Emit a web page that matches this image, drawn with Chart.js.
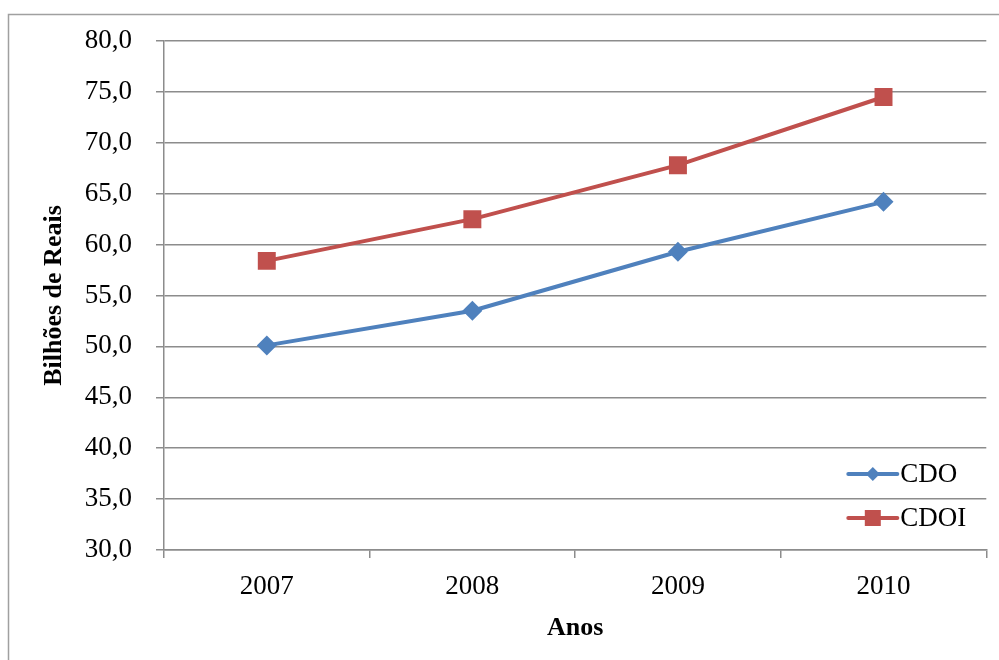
<!DOCTYPE html>
<html>
<head>
<meta charset="utf-8">
<script src="https://cdn.jsdelivr.net/npm/chart.js@4/dist/chart.umd.min.js"></script>
<style>
  html, body { margin: 0; padding: 0; background: #fff; }
  #wrap { width: 999px; height: 660px; position: relative; }
</style>
</head>
<body>
<div id="wrap"><canvas id="c" width="999" height="660"></canvas></div>
<script>
// Categories and series (billions of reais)
const anos = ['2007', '2008', '2009', '2010'];
const cdo = [50.1, 53.5, 59.3, 64.2];
const cdoi = [58.4, 62.5, 67.8, 74.5];
const yTicks = [30, 35, 40, 45, 50, 55, 60, 65, 70, 75, 80];

const FONT = "'Liberation Serif', 'Times New Roman', serif";
const GRID = '#8c8c8c';
const BLUE = '#4F81BD';
const RED = '#C0504D';

// Outer frame of the chart object
const framePlugin = {
  id: 'frame',
  beforeDraw(chart) {
    const ctx = chart.ctx;
    ctx.save();
    ctx.strokeStyle = '#a0a0a0';
    ctx.lineWidth = 1.5;
    ctx.beginPath();
    ctx.moveTo(8.5, chart.height);
    ctx.lineTo(8.5, 14.5);
    ctx.lineTo(chart.width, 14.5);
    ctx.stroke();
    ctx.restore();
  }
};

// Legend drawn inside the plot area, lower right: line segment + marker + label
const insideLegend = {
  id: 'insideLegend',
  afterDraw(chart) {
    const ctx = chart.ctx;
    const area = chart.chartArea;
    const rows = [area.bottom - 76, area.bottom - 32];
    ctx.save();
    chart.data.datasets.forEach((ds, i) => {
      const y = rows[i];
      const x0 = area.right - 138, x1 = area.right - 89;
      const cx = (x0 + x1) / 2;
      ctx.strokeStyle = ds.borderColor;
      ctx.lineWidth = 4;
      ctx.lineCap = 'round';
      ctx.beginPath();
      ctx.moveTo(x0, y);
      ctx.lineTo(x1, y);
      ctx.stroke();
      ctx.fillStyle = ds.backgroundColor;
      ctx.beginPath();
      if (ds.pointStyle === 'rect') {
        const h = 8;
        ctx.rect(cx - h, y - h, 2 * h, 2 * h);
      } else {
        const r = 7;
        ctx.moveTo(cx, y - r);
        ctx.lineTo(cx + r, y);
        ctx.lineTo(cx, y + r);
        ctx.lineTo(cx - r, y);
        ctx.closePath();
      }
      ctx.fill();
      ctx.fillStyle = '#000';
      ctx.font = '27px ' + FONT;
      ctx.textAlign = 'left';
      ctx.textBaseline = 'middle';
      ctx.fillText(ds.label, area.right - 86, y + 1);
    });
    ctx.restore();
  }
};

new Chart(document.getElementById('c'), {
  type: 'line',
  data: {
    labels: anos,
    datasets: [
      {
        label: 'CDO',
        data: cdo,
        borderColor: BLUE,
        backgroundColor: BLUE,
        borderWidth: 4,
        pointStyle: 'rectRot',
        pointRadius: 10,
        pointHoverRadius: 10,
        pointBorderWidth: 0,
        tension: 0
      },
      {
        label: 'CDOI',
        data: cdoi,
        borderColor: RED,
        backgroundColor: RED,
        borderWidth: 4,
        pointStyle: 'rect',
        pointRadius: 12.7,
        pointHoverRadius: 12.7,
        pointBorderWidth: 0,
        tension: 0
      }
    ]
  },
  options: {
    responsive: false,
    animation: false,
    devicePixelRatio: 1,
    layout: { padding: { left: 0, top: 41, right: 12, bottom: 0 } },
    plugins: {
      legend: { display: false },
      tooltip: { enabled: false }
    },
    scales: {
      x: {
        offset: true,
        grid: {
          offset: true,
          drawOnChartArea: false,
          drawTicks: true,
          tickLength: 8,
          color: GRID,
          lineWidth: 1.5
        },
        border: { display: true, color: GRID, width: 1.5 },
        ticks: {
          color: '#000',
          font: { family: FONT, size: 27 },
          padding: 13
        },
        title: {
          display: true,
          text: 'Anos',
          color: '#000',
          font: { family: FONT, size: 26, weight: 'bold' },
          padding: { top: 0, bottom: 16 }
        },
        afterFit(scale) { scale.height = 110; }
      },
      y: {
        min: 30,
        max: 80,
        afterBuildTicks(scale) {
          scale.ticks = yTicks.map(v => ({ value: v }));
        },
        grid: {
          color: GRID,
          lineWidth: 1.5,
          drawTicks: true,
          tickLength: 8
        },
        border: { display: true, color: GRID, width: 1.5 },
        ticks: {
          color: '#000',
          font: { family: FONT, size: 27 },
          padding: 24,
          callback: v => v.toFixed(1).replace('.', ',')
        },
        title: {
          display: true,
          text: 'Bilhões de Reais',
          color: '#000',
          font: { family: FONT, size: 26, weight: 'bold' },
          padding: { top: 39, bottom: 0 }
        },
        afterFit(scale) { scale.width = 164; }
      }
    }
  },
  plugins: [framePlugin, insideLegend]
});
</script>
</body>
</html>
